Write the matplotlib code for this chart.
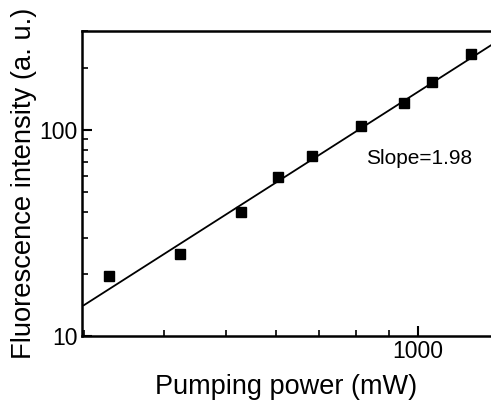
import numpy as np
import matplotlib
matplotlib.use('Agg')
from matplotlib import pyplot as plt
from matplotlib.ticker import LogLocator, NullFormatter, FixedLocator, FixedFormatter

# measured data (log-log)
power = [329, 424, 529, 604, 683, 815, 951, 1052, 1210]
intensity = [19.5, 25.0, 40.0, 59.1, 74.8, 104.6, 135.2, 171, 234]

# fitted line: y = fit_at_1000 * (x / 1000) ** slope
slope = 1.98
fit_at_1000 = 153.0
fit_range = [300, 1300]

plt.rcParams['font.family'] = ['Liberation Sans', 'DejaVu Sans']

fig = plt.figure(figsize=(4.91, 4.01), dpi=100)
ax = fig.add_axes([0.167, 0.162, 0.833, 0.761])

xf = np.array(fit_range, dtype=float)
ax.plot(xf, fit_at_1000 * (xf / 1000) ** slope, c='black', lw=1.3)
ax.plot(power, intensity, 's', c='black', ms=6.5)

ax.set_xscale('log')
ax.set_yscale('log')
ax.set_xlim(298, 1300)
ax.set_ylim(10, 302)

ax.xaxis.set_major_locator(FixedLocator([1000]))
ax.xaxis.set_major_formatter(FixedFormatter(['1000']))
ax.xaxis.set_minor_locator(LogLocator(base=10, subs=np.arange(2, 10)))
ax.xaxis.set_minor_formatter(NullFormatter())
ax.yaxis.set_major_locator(FixedLocator([10, 100]))
ax.yaxis.set_major_formatter(FixedFormatter(['10', '100']))
ax.yaxis.set_minor_locator(LogLocator(base=10, subs=np.arange(2, 10)))
ax.yaxis.set_minor_formatter(NullFormatter())

for s in ['left', 'bottom', 'top']:
    ax.spines[s].set_linewidth(1.8)
ax.spines['right'].set_visible(False)

ax.tick_params(which='major', direction='in', length=7, width=1.5, labelsize=16.5, pad=3)
ax.tick_params(which='minor', direction='in', length=4, width=1.2)

ax.text(829, 73, 'Slope=1.98', fontsize=15, va='center', ha='left')

plt.xlabel('Pumping power (mW)', fontsize=19.5, labelpad=8)
plt.ylabel('Fluorescence intensity (a. u.)', fontsize=19.7, labelpad=2)

plt.savefig('out.png', dpi=100)
